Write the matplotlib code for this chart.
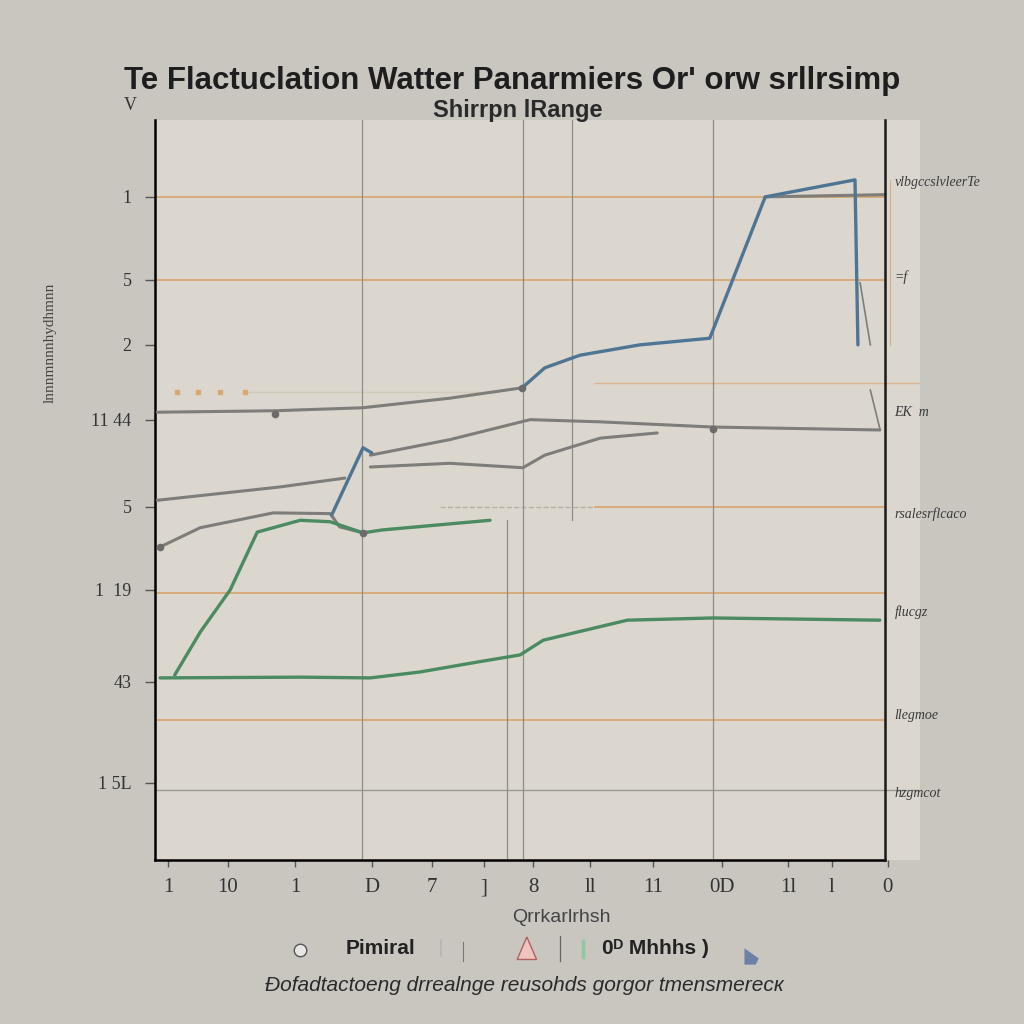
import matplotlib.pyplot as plt
from matplotlib.lines import Line2D
from matplotlib.patches import Polygon

# Series (x: 0-100 across the plot, y: 0-100 up the plot)
gray_a_x = [0.3, 16.4, 28.4, 40.4, 50.3]
gray_a_y = [60.5, 60.7, 61.1, 62.4, 63.8]

blue_b_x = [50.3, 53.4, 58.2, 66.4, 76.0, 83.6, 95.9, 96.3]
blue_b_y = [63.8, 66.5, 68.2, 69.6, 70.5, 89.6, 91.9, 69.6]

gray_c_x = [83.6, 100.0]
gray_c_y = [89.6, 89.9]

gray_d_x = [29.5, 40.4, 51.4, 61.0, 76.4, 99.3]
gray_d_y = [54.7, 56.8, 59.5, 59.2, 58.5, 58.1]

blue_e_x = [24.2, 28.5, 29.7]
blue_e_y = [46.6, 55.7, 55.0]

gray_f_x = [29.5, 40.4, 50.4, 53.4, 61.0, 68.8]
gray_f_y = [53.1, 53.6, 53.0, 54.7, 57.0, 57.7]

gray_g_x = [0.3, 17.1, 26.0]
gray_g_y = [48.6, 50.4, 51.6]

gray_h_x = [0.7, 6.2, 16.2, 24.0, 25.3, 28.5]
gray_h_y = [42.3, 44.9, 46.9, 46.8, 45.0, 44.2]

green_i_x = [2.7, 6.2, 10.3, 14.0, 19.9, 24.0, 28.5, 31.2, 45.9]
green_i_y = [25.0, 30.8, 36.5, 44.3, 45.9, 45.7, 44.2, 44.6, 45.9]

green_j_x = [0.7, 19.9, 29.5, 36.3, 44.5, 50.0, 53.2, 64.7, 76.4, 99.3]
green_j_y = [24.6, 24.7, 24.6, 25.4, 26.8, 27.7, 29.7, 32.4, 32.7, 32.4]

orange_levels = [89.6, 78.4, 36.1, 18.9]
gray_level = 9.5
vertical_grid = [28.4, 50.4, 76.4]
orange_dots_x = [3.0, 5.9, 8.9, 12.3]
orange_dots_y = [63.2, 63.2, 63.2, 63.2]

ytick_pos = [89.6, 78.4, 69.6, 59.5, 47.7, 36.5, 24.1, 10.4]
ytick_lab = ["1", "5", "2", "11 44", "5", "1  19", "43", "1 5L"]
xtick_pos = [1.8, 10.0, 19.2, 29.7, 37.9, 45.1, 51.8, 59.6, 68.2, 77.7, 86.7, 92.7, 100.4]
xtick_lab = ["1", "10", "1", "D", "7", "]", "8", "ll", "11", "0D", "1l", "l", "0"]

right_lab_y = [91.5, 78.8, 60.5, 46.8, 33.5, 19.5, 9.0]
right_lab = ["vlbgccslvleerTe", "=f", "EK  m", "rsalesrflcaco", "flucgz", "llegmoe", "hzgmcot"]

BG = '#c9c6c0'
PANEL = '#dcd7ce'
GRAY = '#7f7d7a'
BLUE = '#4f7595'
GREEN = '#4b8b62'
ORANGE = '#d8a872'

plt.rcParams['font.family'] = ['Liberation Sans', 'DejaVu Sans']

fig = plt.figure(figsize=(10.24, 10.24), dpi=100)
fig.patch.set_facecolor(BG)
ax = fig.add_axes([0.1514, 0.1602, 0.747, 0.7227])
ax.set_facecolor(PANEL)
ax.set_xlim(0, 104.8)
ax.set_ylim(0, 100)

# grid-ish lines
for lvl in orange_levels:
    ax.plot([0, 100], [lvl, lvl], color=ORANGE, lw=1.3, zorder=1)
ax.plot([0, 104.8], [gray_level, gray_level], color='#9a9894', lw=1.0, zorder=1)
ax.plot([60.3, 104.8], [64.5, 64.5], color=ORANGE, lw=1.0, alpha=0.7, zorder=1)
ax.plot([12.3, 46.5], [63.2, 63.2], color='#d0c9bc', lw=1.0, zorder=1)
ax.plot(orange_dots_x, orange_dots_y, 's', color=ORANGE, ms=2.5, zorder=1)
ax.plot([60.3, 100], [47.7, 47.7], color=ORANGE, lw=1.3, zorder=1)
ax.plot([39.0, 60.3], [47.7, 47.7], color='#b8b2a6', lw=1.0, ls='--', zorder=1)
for vx in vertical_grid:
    ax.plot([vx, vx], [0, 100], color='#8e8c88', lw=0.9, zorder=1)
ax.plot([48.2, 48.2], [0, 46], color='#8e8c88', lw=0.9, zorder=1)
ax.plot([57.1, 57.1], [46, 100], color='#8e8c88', lw=0.9, zorder=1)
ax.plot([100.7, 100.7], [69.6, 91.9], color='#c9b48e', lw=0.8, zorder=1)
ax.plot([96.6, 98.0], [78.0, 69.6], color=GRAY, lw=1.2, zorder=2)
ax.plot([98.0, 99.3], [63.5, 58.3], color=GRAY, lw=1.2, zorder=2)

# data lines
for xs, ys in [(gray_a_x, gray_a_y), (gray_c_x, gray_c_y), (gray_d_x, gray_d_y),
               (gray_f_x, gray_f_y), (gray_g_x, gray_g_y), (gray_h_x, gray_h_y)]:
    ax.plot(xs, ys, color=GRAY, lw=2.2, zorder=3, solid_capstyle='round')
for xs, ys in [(green_i_x, green_i_y), (green_j_x, green_j_y)]:
    ax.plot(xs, ys, color=GREEN, lw=2.4, zorder=3, solid_capstyle='round')
for xs, ys in [(blue_b_x, blue_b_y), (blue_e_x, blue_e_y)]:
    ax.plot(xs, ys, color=BLUE, lw=2.4, zorder=4, solid_capstyle='round')

# a few point markers
ax.plot([16.4, 50.3, 28.5, 76.4, 0.7], [60.2, 63.8, 44.2, 58.3, 42.3], 'o',
        color='#6d6c6a', ms=4.5, zorder=5)

for side in ['top', 'right']:
    ax.spines[side].set_visible(False)
ax.spines['left'].set_linewidth(1.8)
ax.spines['bottom'].set_linewidth(1.8)
ax.spines['bottom'].set_bounds(0, 100)
ax.plot([100, 100], [0, 100], color='#1a1a1a', lw=1.8, zorder=6, clip_on=False)

ax.set_yticks(ytick_pos)
ax.set_yticklabels(ytick_lab, fontsize=13, family='Liberation Serif', color='#333333')
ax.set_xticks(xtick_pos)
ax.set_xticklabels(xtick_lab, fontsize=15, family='Liberation Serif', color='#333333')
ax.tick_params(axis='y', length=7, width=1, color='#555555', pad=10)
ax.tick_params(axis='x', length=5, width=1, color='#555555', pad=8)

for yy, lab in zip(right_lab_y, right_lab):
    ax.text(101.3, yy, lab, fontsize=10, style='italic', family='Liberation Serif',
            color='#3a3a3a', va='center', ha='left', clip_on=False)

# titles and labels
fig.text(0.5, 0.913, "Te Flactuclation Watter Panarmiers Or' orw srllrsimp",
         ha='center', va='baseline', fontsize=22.5, weight='bold', color='#1e1e1e')
fig.text(0.506, 0.886, "Shirrpn lRange", ha='center', va='baseline',
         fontsize=17, weight='bold', color='#2a2a2a')
fig.text(0.127, 0.897, "V", ha='center', va='center', fontsize=13,
         family='Liberation Serif', color='#333333')
fig.text(0.049, 0.665, "lnnnmnnnhydhmnn", rotation=90, ha='center', va='center',
         fontsize=11, family='Liberation Serif', color='#444444')
fig.text(0.548, 0.104, "Qrrkarlrhsh", ha='center', va='center', fontsize=14,
         color='#444444')

# legend row
fig.add_artist(Line2D([0.293], [0.072], marker='o', color='#e8e6e2',
                      markeredgecolor='#555555', ms=9, ls=''))
fig.text(0.372, 0.074, "Pimiral", ha='center', va='center', fontsize=15,
         weight='bold', color='#222222')
fig.add_artist(Line2D([0.431, 0.431], [0.066, 0.082], color='#b8b6b2', lw=1.2))
fig.add_artist(Line2D([0.452, 0.452], [0.062, 0.080], color='#777777', lw=0.8))
fig.add_artist(Polygon([[0.505, 0.063], [0.524, 0.063], [0.5145, 0.085]],
                       closed=True, facecolor='#efc4bf', edgecolor='#b06060', lw=1.0))
fig.add_artist(Line2D([0.547, 0.547], [0.062, 0.086], color='#666666', lw=0.9))
fig.add_artist(Line2D([0.569, 0.569], [0.065, 0.081], color='#8fc9a4', lw=2.5))
fig.text(0.64, 0.074, "0\u1d30 Mhhhs )", ha='center', va='center', fontsize=15,
         weight='bold', color='#222222')
fig.add_artist(Polygon([[0.727, 0.058], [0.738, 0.058], [0.741, 0.064], [0.727, 0.074]],
                       closed=True, facecolor='#6d80a8', edgecolor='none'))
fig.text(0.512, 0.038, "\u0189ofadtactoeng drrealnge reusohds gorgor tmensmerec\u043a",
         ha='center', va='center', fontsize=15, style='italic', color='#2a2a2a')

fig.savefig('out.png', dpi=100, facecolor=BG)
